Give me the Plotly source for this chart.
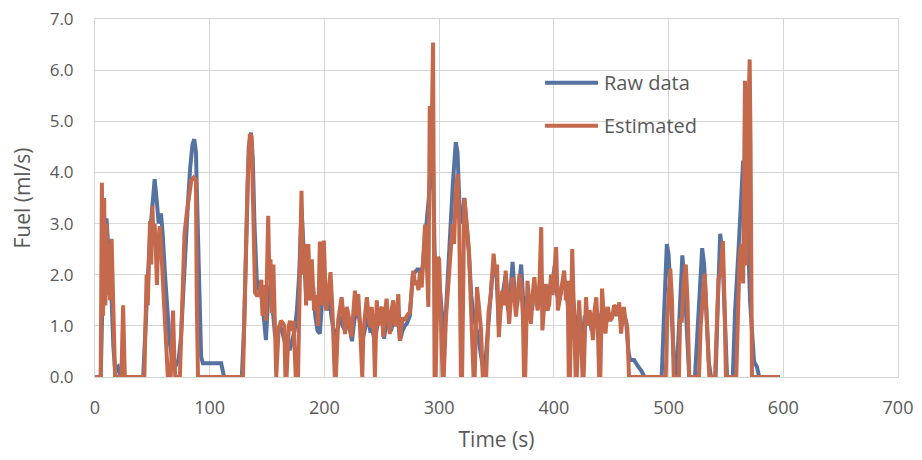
import plotly.graph_objects as go

# Estimated (orange) series: time (s) and fuel (ml/s)
est_time = [0, 4, 5, 6, 7, 8, 9, 10, 11, 12, 13, 14.5, 16, 17.5, 23, 24.5, 26,
            43, 44, 45, 46, 47, 48, 49, 50, 51, 52, 53, 54, 55, 56.5, 58, 60, 62, 63.5, 66, 67, 68, 69, 70,
            74, 76, 78, 80, 82, 84, 86, 88, 88.7, 89.8,
            129, 131, 133, 135, 136.5, 138, 139.5, 141, 143, 145, 146, 148, 149, 151, 152, 153, 154, 155.5, 158,
            160, 162, 164, 165, 166, 167, 169, 170, 171.5, 173, 175, 177, 180, 181.5, 183, 184, 186, 187.5,
            189, 191, 193, 194.5, 196, 197.5, 199.5, 201.5, 203, 205.3, 207, 209, 210, 212, 215, 218, 219.5,
            221, 223.6, 226.6, 228, 229.5, 231, 232.5, 233, 234, 235.5, 237, 238.5, 240, 241.2, 243, 244,
            245.6, 247, 248.5, 250, 251.3, 252.5, 254.2, 255.5, 257, 258.5, 260, 261.5, 263, 264.4, 265.8,
            267, 268.7, 270, 272, 274.5, 277.5, 279, 280.4, 282, 283.3, 284.8, 286, 287.7, 289, 290.6, 291.8,
            293, 294.7, 295.5, 296, 297, 299, 300, 302, 303, 304, 306, 308, 310, 311.7, 313, 314.5, 316,
            317.5, 319, 320, 322, 324, 326, 328, 330, 331, 333, 335, 336.5, 338, 341, 343, 345, 347.5, 349,
            350.5, 352, 353.5, 355, 356.5, 358, 359.5, 361, 362.5, 364, 365.5, 367, 368.5, 370, 371.5, 373,
            374, 375, 377, 378.5, 380, 381.5, 383, 384.5, 386, 387.5, 389, 390, 391.5, 393, 394.5, 396,
            397.5, 399, 402, 403.5, 405, 407, 409, 410.5, 412, 413, 414, 416, 417.5, 419, 420, 422, 423.5,
            425, 426, 428, 429.5, 431, 432.5, 434, 435.5, 437, 438.5, 439.5, 440.5, 442, 443.5, 445, 447,
            449, 451, 452.5, 454, 455.5, 457, 458.6, 460, 461, 462.5, 464, 465.5,
            497.5, 499, 501.5, 503, 504.5, 509, 510, 511.5, 513, 515, 516.5, 518, 526.5, 528, 530, 531.5,
            533, 535.5, 540.5, 542, 543.5, 545, 547.4, 549, 550, 559, 560, 562, 563.5, 565, 566.6, 568,
            569.5, 570.7, 571.5, 572.7, 597]
est_fuel = [0, 0, 0, 3.8, 1.2, 3.5, 1.4, 3.0, 1.6, 2.6, 1.5, 2.7, 1.0, 0, 0, 1.4, 0,
            0, 1.0, 2.0, 1.4, 2.5, 3.05, 2.2, 3.35, 2.7, 3.0, 2.5, 1.8, 2.6, 2.95, 2.4, 1.6, 0.9, 0, 0, 0.9, 1.3, 0.5, 0,
            0, 1.2, 2.8, 3.2, 3.6, 3.85, 3.9, 3.85, 1.5, 0,
            0, 2.0, 3.8, 4.75, 4.7, 3.2, 1.65, 1.6, 1.6, 1.9, 1.2, 1.8, 1.1, 3.15, 1.9, 2.3, 1.25, 2.2, 0,
            0.9, 1.1, 1.05, 1.0, 0, 0, 1.0, 1.1, 0.9, 1.1, 0, 0, 3.64, 2.0, 2.6, 1.4, 2.6, 1.5,
            2.3, 1.3, 1.6, 1.0, 2.65, 1.4, 2.67, 1.3, 1.5, 2.05, 1.3, 0, 0, 1.11, 1.56, 0.84, 1.37,
            1.2, 0.78, 1.69, 1.2, 1.62, 1.0, 0, 0, 0.9, 1.3, 1.56, 1.2, 0.97, 1.37, 0.9, 0,
            1.5, 1.0, 1.3, 1.37, 0.78, 1.2, 1.53, 1.1, 0.84, 1.3, 1.5, 1.0, 1.11, 1.62, 0.71,
            1.0, 1.17, 1.1, 1.2, 1.27, 2.08, 1.8, 1.88, 1.7, 2.08, 1.75, 2.2, 2.98, 2.4, 1.37, 5.3,
            4.0, 6.54, 3.0, 0, 0, 2.35, 2.3, 1.0, 0, 0, 1.18, 1.8, 2.61, 2.99, 2.6, 3.6, 3.97,
            3.0, 0, 0, 3.49, 2.9, 2.48, 1.2, 0, 0, 1.76, 1.3, 0.92, 0, 0, 1.25, 1.6, 2.41, 2.0,
            2.2, 0.78, 1.3, 1.69, 1.4, 2.08, 1.6, 1.04, 1.5, 1.95, 1.6, 1.18, 1.6, 2.01, 1.8, 1.2,
            0, 0, 1.88, 1.5, 1.04, 1.6, 1.95, 1.5, 1.3, 1.9, 2.93, 0.91, 1.5, 1.82, 1.3, 1.43,
            2.0, 1.6, 2.54, 1.3, 1.5, 1.8, 2.08, 1.5, 1.88, 0, 0, 2.5, 1.3, 0, 0, 1.5, 0.85,
            0, 0, 1.56, 1.0, 1.3, 1.2, 0.72, 1.3, 1.56, 0.8, 0, 0, 1.73, 1.2, 0.85, 1.37,
            1.1, 1.17, 1.4, 1.37, 1.2, 1.46, 0.85, 1.2, 1.37, 1.1, 0.98, 0,
            0, 1.2, 2.12, 1.5, 0, 0, 1.1, 1.1, 1.8, 2.2, 1.5, 0, 0, 1.0, 1.7, 2.02,
            1.3, 0, 0, 1.0, 1.9, 2.0, 2.66, 1.2, 0, 0, 1.0, 2.4, 2.6, 1.83, 5.79, 2.18,
            5.0, 6.21, 4.5, 0, 0]

# Raw data (blue) series
raw_time = [0, 5, 6.5, 8, 10, 11.5, 13, 14.5, 16, 17.5, 20, 22,
            42, 44, 46, 48, 50, 52, 54, 55.5, 57.5, 59, 61, 63, 65, 67, 69, 71, 73, 75, 77, 79, 81, 83,
            85, 86.5, 88, 89.5, 91, 92.5, 94, 110, 112.5,
            128, 130, 132, 134, 136, 137.5, 139, 141, 143, 145, 147, 149, 151, 153, 155, 157, 159, 161,
            163, 165, 167, 170, 172, 174, 176, 178, 180, 182, 184, 186, 188, 190, 192, 194, 196, 198,
            200, 202, 204, 206, 208, 210, 212, 214, 216, 218, 220, 222, 224, 226, 228, 230, 232, 234,
            236, 238, 240, 242, 244, 246, 248, 250, 252, 254, 256, 258, 260, 262, 264, 265.8, 268, 270,
            272, 274.5, 277, 279, 281, 283, 285, 287, 289, 291, 293, 294.5, 296, 298, 300, 302, 304,
            306, 308, 310, 312, 314.5, 316, 318, 320, 322, 324, 326, 328, 330, 332, 334, 336, 338, 340,
            342, 344, 346, 348, 350, 352, 354, 356, 358, 360, 362, 364, 366, 368, 370, 371.5, 373, 375,
            377, 379, 381, 383, 385, 387, 389, 391, 393, 395, 397, 399, 401, 403, 405, 407, 409, 411,
            413, 415, 417, 419, 421, 423, 425, 427, 429, 431, 433, 435, 437, 439, 441, 443, 445, 447,
            449, 451, 453, 455, 457, 459, 461, 463, 465, 466.5, 470, 473, 476, 479,
            494, 496, 498.5, 500, 502, 504, 505.5, 507, 509, 511, 512, 514, 516, 518, 523, 525, 527,
            529.3, 531, 533, 535, 537, 541, 543, 545, 547, 549, 551, 556, 558, 561, 563, 565, 567, 569,
            571, 573, 574.5, 577, 579, 597]
raw_fuel = [0, 0, 1.5, 2.8, 3.1, 2.6, 2.2, 1.5, 0.6, 0.15, 0.2, 0,
            0, 0.8, 1.9, 2.8, 3.4, 3.87, 3.4, 3.0, 3.2, 2.8, 2.0, 1.2, 0.7, 0.4, 0.3, 0.25, 0.35, 0.8, 1.8, 2.7, 3.4, 4.1,
            4.55, 4.65, 4.4, 3.0, 1.2, 0.4, 0.27, 0.27, 0,
            0, 1.0, 3.0, 4.5, 4.78, 4.3, 3.0, 1.9, 1.7, 1.6, 1.2, 0.72, 1.6, 1.8, 1.3, 0.8, 0.9, 1.0,
            0.9, 0.7, 0.55, 0.55, 0.7, 0.9, 1.3, 2.0, 3.3, 2.3, 1.6, 2.0, 1.5, 1.8, 1.2, 0.9, 0.85, 1.5,
            1.8, 1.3, 1.6, 1.2, 0.9, 0.8, 1.0, 1.2, 1.0, 0.9, 1.1, 0.95, 0.7, 1.1, 1.3, 1.2, 0.9, 0.8,
            1.0, 1.2, 0.9, 0.9, 0.7, 1.0, 1.1, 1.2, 0.75, 1.1, 1.0, 0.9, 1.1, 1.0, 1.2, 0.71, 0.9, 1.0,
            1.05, 1.2, 2.0, 2.05, 2.1, 2.1, 2.0, 2.5, 3.0, 3.5, 4.3, 4.4, 2.5, 1.5, 1.9, 1.2, 0.8,
            1.3, 2.2, 3.0, 3.8, 4.59, 4.4, 3.2, 3.0, 3.5, 3.0, 2.4, 1.6, 1.2, 1.0, 0.8, 0.5, 0.2, 0.2,
            0.8, 1.3, 1.9, 2.2, 2.0, 1.0, 1.5, 1.7, 2.0, 1.3, 1.6, 2.25, 1.6, 1.4, 1.9, 2.2, 1.6, 1.2,
            1.6, 1.5, 1.3, 1.8, 1.5, 1.6, 2.0, 1.3, 1.7, 1.5, 1.8, 1.9, 2.2, 1.6, 1.5, 1.8, 1.9, 1.7,
            1.2, 1.7, 1.5, 1.0, 1.2, 0.9, 0.79, 1.2, 1.1, 1.2, 0.9, 1.2, 1.3, 0.9, 1.2, 1.4, 1.0, 1.2,
            1.1, 1.2, 1.3, 1.2, 1.3, 1.0, 1.2, 1.1, 0.5, 0.33, 0.33, 0.22, 0.13, 0,
            0, 1.2, 2.6, 2.4, 1.5, 0.4, 0, 0, 1.0, 2.2, 2.38, 1.8, 0.8, 0, 0, 0.8, 1.8,
            2.52, 2.2, 1.2, 0.3, 0, 0, 1.5, 2.8, 2.4, 1.0, 0, 0, 1.3, 2.5, 3.5, 4.23, 4.0, 3.0,
            1.5, 0.6, 0.3, 0.2, 0, 0]

x_ticks = [0, 100, 200, 300, 400, 500, 600, 700]
y_ticks = [0, 1, 2, 3, 4, 5, 6, 7]
series_names = ["Raw data", "Estimated"]

BLUE = "#5572a1"
ORANGE = "#c5694d"
GRID = "#d9d5d2"
TXT = "#595959"
FONT = "Open Sans, sans-serif"

fig = go.Figure()
fig.add_trace(go.Scatter(x=raw_time, y=raw_fuel, mode="lines", name=series_names[0],
                         showlegend=False, line=dict(color=BLUE, width=4)))
fig.add_trace(go.Scatter(x=est_time, y=est_fuel, mode="lines", name=series_names[1],
                         showlegend=False, line=dict(color=ORANGE, width=4)))

# Legend drawn inside the plot (longer line samples, as in the original)
legend_y = [0.822, 0.702]
for name, col, ly in zip(series_names, [BLUE, ORANGE], legend_y):
    fig.add_shape(type="line", xref="paper", yref="paper", x0=0.5604, x1=0.6264, y0=ly, y1=ly,
                  line=dict(color=col, width=4))
    fig.add_annotation(xref="paper", yref="paper", x=0.6314, y=ly, text=name, showarrow=False,
                       xanchor="left", yanchor="middle", font=dict(size=20, color=TXT, family=FONT))

fig.update_layout(
    width=922, height=460,
    margin=dict(l=87, r=32, t=11, b=91),
    paper_bgcolor="white", plot_bgcolor="white",
    font=dict(family=FONT, color=TXT, size=17),
    showlegend=False,
    xaxis=dict(range=[0, 700], tickvals=x_ticks, ticktext=[str(v) for v in x_ticks],
               showgrid=True, gridcolor=GRID, gridwidth=1, zeroline=False, automargin=False,
               showline=True, linecolor=GRID, mirror=True, ticks="", ticklabeloverflow="allow",
               tickfont=dict(size=18, color=TXT), ticklabelstandoff=14,
               title=dict(text="Time (s)", font=dict(size=21, color=TXT), standoff=14)),
    yaxis=dict(range=[0, 7], tickvals=y_ticks, ticktext=[f"{v:.1f}" for v in y_ticks],
               showgrid=True, gridcolor=GRID, gridwidth=1, zeroline=False, automargin=False,
               showline=True, linecolor=GRID, mirror=True, ticks="", ticklabeloverflow="allow",
               tickfont=dict(size=17, color=TXT), ticklabelstandoff=17,
               title=dict(text="Fuel (ml/s)", font=dict(size=21, color=TXT), standoff=15)),
)

fig.write_html("out.html")
